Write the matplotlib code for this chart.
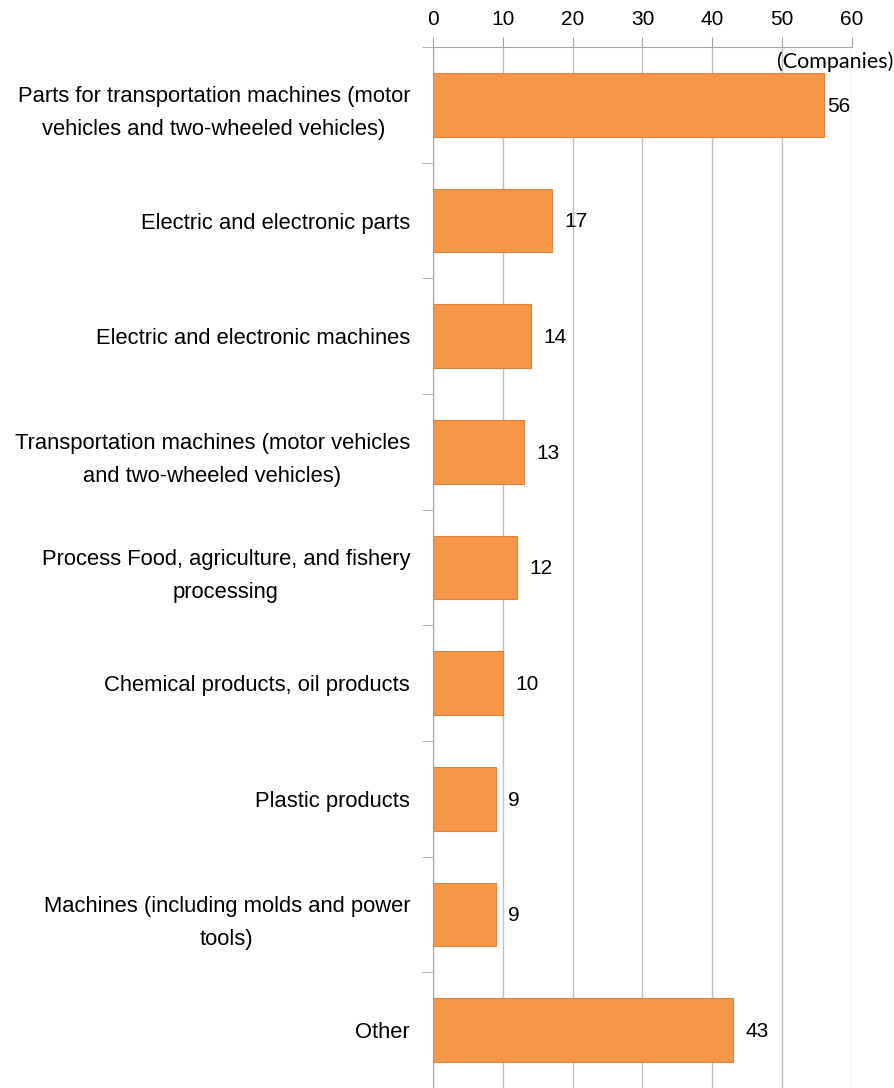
import matplotlib
matplotlib.use("Agg")
import matplotlib.pyplot as plt
import numpy as np

categories = [
    "Parts for transportation machines (motor\nvehicles and two-wheeled vehicles)",
    "Electric and electronic parts",
    "Electric and electronic machines",
    "Transportation machines (motor vehicles\nand two-wheeled vehicles)",
    "Process Food, agriculture, and fishery\nprocessing",
    "Chemical products, oil products",
    "Plastic products",
    "Machines (including molds and power\ntools)",
    "Other",
]
companies = [56, 17, 14, 13, 12, 10, 9, 9, 43]
x_ticks = [0, 10, 20, 30, 40, 50, 60]

W, H = 895, 1088
fig = plt.figure(figsize=(W / 100, H / 100), dpi=100)
ax = fig.add_axes([433 / W, 0.0, (852 - 433) / W, 1 - 47 / H])

ypos = np.arange(len(categories))
ax.barh(ypos, companies, height=0.55, color="#F79646", edgecolor="#D9843F",
        linewidth=0.8, zorder=3)

xmax = 60
ax.set_xlim(0, xmax)
ax.set_ylim(len(categories) - 0.5, -0.5)

ax.xaxis.tick_top()
ax.set_xticks(x_ticks)
ax.set_xticklabels([str(t) for t in x_ticks], fontsize=15,
                   family="Liberation Sans", color="#000000")
ax.tick_params(axis="x", length=7, color="#A6A6A6", pad=6)
ax.grid(axis="x", color="#BFBFBF", linewidth=1.0, zorder=0)

ax.set_yticks(ypos)
ax.set_yticklabels(categories, fontsize=15.8, family="Liberation Sans",
                   ha="right", multialignment="center", linespacing=1.75)
ax.tick_params(axis="y", length=0, pad=16.5)

ax.set_yticks(np.arange(len(categories) + 1) - 0.5, minor=True)
ax.tick_params(axis="y", which="minor", length=8, color="#A6A6A6")

for side in ["right", "bottom"]:
    ax.spines[side].set_visible(False)
ax.spines["left"].set_color("#A6A6A6")
ax.spines["top"].set_color("#A6A6A6")

# value labels; a bar close to the plot edge gets its label tucked in tight
for y, v in zip(ypos, companies):
    gap = 2 if v > xmax - 6 else 9
    ax.annotate(str(v), (v, y), xytext=(gap, -1), textcoords="offset points",
                va="center", ha="left", fontsize=15,
                family="Liberation Sans", color="#000000", zorder=4)

fig.text(893 / W, 1 - 62 / H, "(Companies)", ha="right", va="center",
         fontsize=15.5, family="Lato", color="#000000")

fig.savefig("out.png", dpi=100)
